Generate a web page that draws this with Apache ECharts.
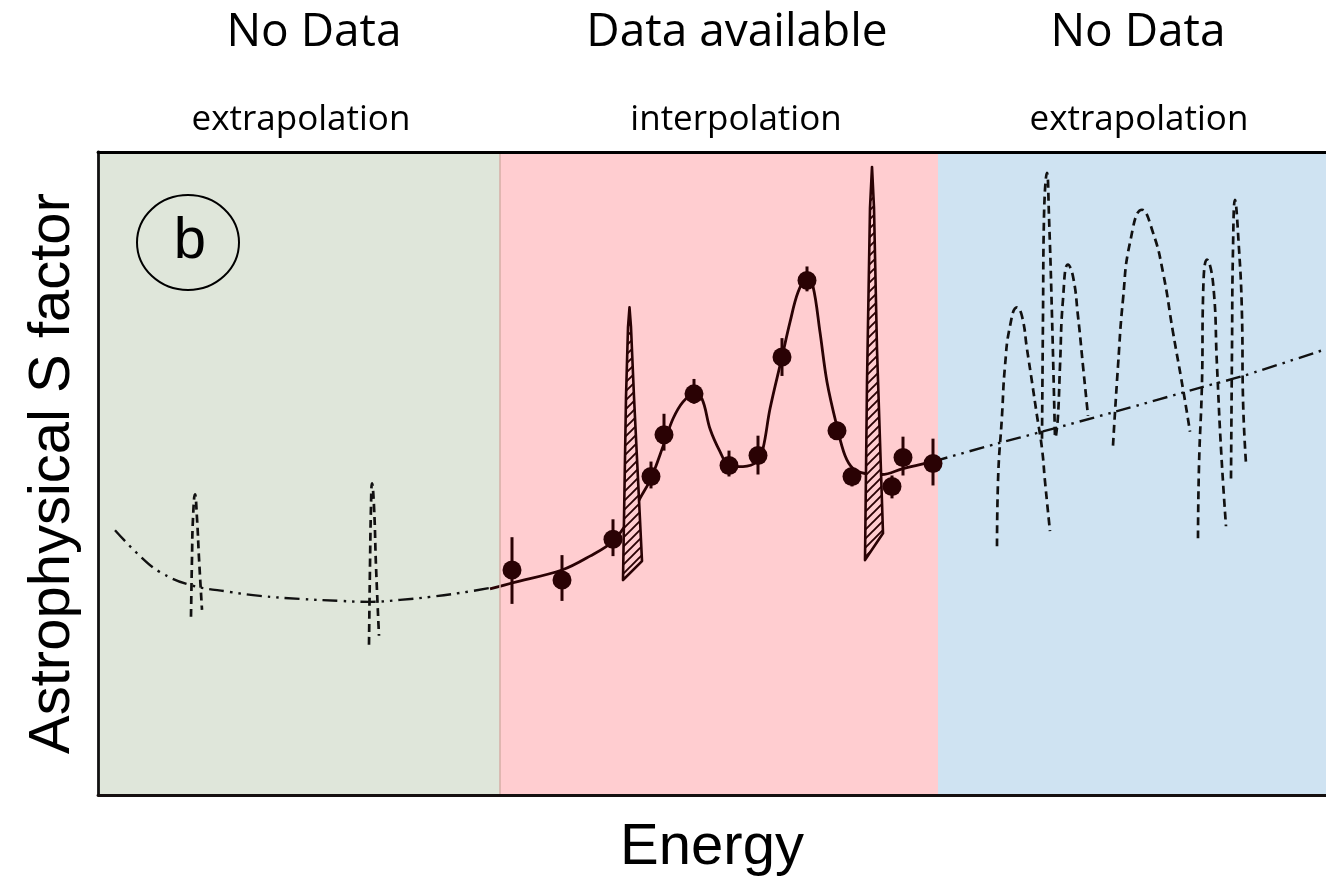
<!DOCTYPE html>
<html><head><meta charset="utf-8">
<script src="https://cdn.jsdelivr.net/npm/echarts@6/dist/echarts.min.js"></script>
<style>html,body{margin:0;padding:0;background:#fff}#c{width:1326px;height:882px}</style>
</head><body><div id="c"></div>
<script>
// ---- Regions (energy ranges, arbitrary units) ----
const regionEdges = [0, 402, 840, 1228];
const regionTitles = ['No Data', 'Data available', 'No Data'];
const regionSubtitles = ['extrapolation', 'interpolation', 'extrapolation'];
const panelLabel = 'b';
const xAxisName = 'Energy';
const yAxisName = 'Astrophysical S factor';
const yMax = 646;

// ---- Measured data points [energy, S] and error bars [low, high] ----
const dataPoints = [[414,226],[464,216],[515,257],[553,320],[566,362],[596,403],[631,331],[660,341],[684,440],[709,517],[739,366],[754,320],[794,310],[805,339],[835,333]];
const dataErrors = [[192,259],[195,241],[240,277],[308,335],[346,383],[393,418],[320,346],[322,361],[421,459],[506,531],[358,375],[310,328],[298,321],[321,360],[311,358]];

// ---- Fit through data (interpolation) ----
const fitCurve = [[392,207],[414,213],[464,226],[492,240],[515,255],[532,278],[542,298],[553,318],[566,353],[575,378],[585,395],[596,403],[604,398],[612,368],[622,345],[631,331],[645,330],[659,335],[665,348],[672,388],[684,440],[692,475],[700,505],[709,520],[715,511],[722,465],[729,415],[739,370],[747,341],[755,328],[767,323],[784,322],[805,328],[835,335]];

// ---- Extrapolations (dash-dot) ----
const leftExtrap = [[17,266],[42,240],[62,224],[92,211],[132,204],[162,200],[202,197],[242,195],[272,194],[302,196],[332,199],[362,203],[392,208]];
const rightExtrap = [[835,335],[899,353],[944,365],[1017,385],[1105,410],[1145,421],[1228,448]];

// ---- Possible unknown resonances (dashed) ----
const resL1 = [[93,179],[94,238],[95,278],[97,302],[99,278],[101,238],[104,186]];
const resL2 = [[271,151],[272,230],[273,290],[274,313],[276,290],[278,230],[281,160]];
const resA = [[899,250],[900,315],[904,381],[907,431],[912,471],[919,490],[924,481],[929,448],[934,415],[939,381],[944,348],[947,315],[952,265]];
const resB = [[944,358],[945,481],[946,581],[949,625],[951,581],[954,481],[957,358]];
const resC = [[958,361],[960,381],[962,431],[965,498],[970,533],[975,521],[980,481],[985,431],[990,381]];
const resD = [[1015,351],[1020,431],[1025,498],[1032,555],[1044,588],[1055,565],[1065,525],[1075,465],[1085,408],[1092,365]];
const resE = [[1100,258],[1101,331],[1104,415],[1105,498],[1109,538],[1115,515],[1119,431],[1123,348],[1128,270]];
const resF = [[1133,318],[1134,448],[1135,548],[1137,598],[1140,565],[1144,481],[1145,398],[1148,333]];
const resonances = [resL1, resL2, resA, resB, resC, resD, resE, resF];

// ---- Narrow resonances within data range (hatched) ----
const hatch1 = [[525,216],[528,400],[530,470],[531.5,490],[533,470],[536,400],[544,235]];
const hatch2 = [[767,236],[769,415],[772,590],[774,631],[776,590],[779,448],[785,263]];
const hatches = [hatch1, hatch2];

// ---- Styles ----
const regionColors = ['#dfe6da', '#ffcdd0', '#cfe3f2'];
const maroon = '#2a0204';

function makeHatch() {
  const s = 9;
  const c = document.createElement('canvas');
  c.width = s; c.height = s;
  const g = c.getContext('2d');
  g.fillStyle = regionColors[1];
  g.fillRect(0, 0, s, s);
  g.strokeStyle = maroon;
  g.lineWidth = 1.9;
  g.beginPath();
  g.moveTo(-2, s + 2); g.lineTo(s + 2, -2);
  g.moveTo(-2, 2); g.lineTo(2, -2);
  g.moveTo(s - 2, s + 2); g.lineTo(s + 2, s - 2);
  g.stroke();
  return c;
}
const hatchPattern = { image: makeHatch(), repeat: 'repeat' };

const chart = echarts.init(document.getElementById('c'), null, { renderer: 'canvas' });

const dashDot = [15, 6, 2.5, 6, 2.5, 6];
const series = [];
series.push({
  type: 'line', data: leftExtrap, smooth: 0.4, showSymbol: false, z: 3,
  lineStyle: { color: '#111', width: 2.4, type: dashDot },
  markArea: {
    silent: true,
    data: regionColors.map((col, i) => [
      { xAxis: regionEdges[i], itemStyle: { color: col, opacity: 1 } },
      { xAxis: regionEdges[i + 1] }
    ])
  },
  markLine: {
    silent: true, symbol: 'none', label: { show: false },
    lineStyle: { color: '#d6aea6', width: 1.5, type: 'solid' },
    data: [{ xAxis: regionEdges[1] }]
  }
});
series.push({
  type: 'line', data: rightExtrap, smooth: 0.3, showSymbol: false, z: 3,
  lineStyle: { color: '#111', width: 2.4, type: dashDot }
});
resonances.forEach(r => series.push({
  type: 'line', data: r, smooth: 0.5, showSymbol: false, z: 3,
  lineStyle: { color: '#111', width: 2.7, type: [8, 5] }
}));
series.push({
  type: 'line', data: fitCurve, smooth: 0.35, showSymbol: false, z: 4,
  lineStyle: { color: maroon, width: 2.8 }
});
hatches.forEach(poly => series.push({
  type: 'custom', z: 5, data: [poly[0]],
  renderItem: (params, api) => ({
    type: 'polygon',
    shape: { points: poly.map(p => api.coord(p)) },
    style: { fill: hatchPattern, stroke: maroon, lineWidth: 2.6, lineJoin: 'round' }
  })
}));
series.push({
  type: 'custom', z: 6,
  data: dataPoints.map((p, i) => [p[0], dataErrors[i][0], dataErrors[i][1]]),
  encode: { x: 0, y: [1, 2] },
  renderItem: (params, api) => {
    const a = api.coord([api.value(0), api.value(1)]);
    const b = api.coord([api.value(0), api.value(2)]);
    return { type: 'line', shape: { x1: a[0], y1: a[1], x2: b[0], y2: b[1] },
      style: { stroke: maroon, lineWidth: 3 } };
  }
});
series.push({
  type: 'scatter', data: dataPoints, symbolSize: 19, z: 7,
  itemStyle: { color: maroon, opacity: 1 }
});

const noAxisBits = { axisTick: { show: false }, axisLabel: { show: false }, splitLine: { show: false } };

chart.setOption({
  animation: false,
  backgroundColor: '#ffffff',
  grid: { left: 98, right: 0, top: 152, bottom: 84 },
  xAxis: [
    Object.assign({
      type: 'value', min: regionEdges[0], max: regionEdges[3], z: 10,
      name: xAxisName, nameLocation: 'middle', nameGap: 24,
      nameTextStyle: { fontFamily: 'Liberation Sans', fontSize: 58, color: '#000' },
      axisLine: { show: true, onZero: false, lineStyle: { color: '#151010', width: 2.8 } }
    }, noAxisBits),
    Object.assign({
      type: 'value', min: regionEdges[0], max: regionEdges[3], position: 'top', z: 10,
      axisLine: { show: true, onZero: false, lineStyle: { color: '#000', width: 2.8 } }
    }, noAxisBits)
  ],
  yAxis: Object.assign({
    type: 'value', min: 0, max: yMax, z: 10,
    name: yAxisName, nameLocation: 'middle', nameGap: 16, nameRotate: 90,
    nameTextStyle: { fontFamily: 'Liberation Sans', fontSize: 58, color: '#000' },
    axisLine: { show: true, onZero: false, lineStyle: { color: '#111', width: 2.8 } }
  }, noAxisBits),
  graphic: [
    { type: 'text', x: 314, y: 33, style: { text: regionTitles[0], font: '46px "Open Sans"', fill: '#000', align: 'center', verticalAlign: 'middle' } },
    { type: 'text', x: 737, y: 33, style: { text: regionTitles[1], font: '46px "Open Sans"', fill: '#000', align: 'center', verticalAlign: 'middle' } },
    { type: 'text', x: 1138, y: 33, style: { text: regionTitles[2], font: '46px "Open Sans"', fill: '#000', align: 'center', verticalAlign: 'middle' } },
    { type: 'text', x: 301, y: 120, style: { text: regionSubtitles[0], font: '35px "Open Sans"', fill: '#000', align: 'center', verticalAlign: 'middle' } },
    { type: 'text', x: 736, y: 120, style: { text: regionSubtitles[1], font: '35px "Open Sans"', fill: '#000', align: 'center', verticalAlign: 'middle' } },
    { type: 'text', x: 1139, y: 120, style: { text: regionSubtitles[2], font: '35px "Open Sans"', fill: '#000', align: 'center', verticalAlign: 'middle' } },
    { type: 'ellipse', z: 100, shape: { cx: 188, cy: 242.5, rx: 51, ry: 47.5 }, style: { fill: 'none', stroke: '#000', lineWidth: 2 } },
    { type: 'text', z: 100, x: 190, y: 242, style: { text: panelLabel, font: '58px "Liberation Sans"', fill: '#000', align: 'center', verticalAlign: 'middle' } }
  ],
  series: series
});
</script>
</body></html>
